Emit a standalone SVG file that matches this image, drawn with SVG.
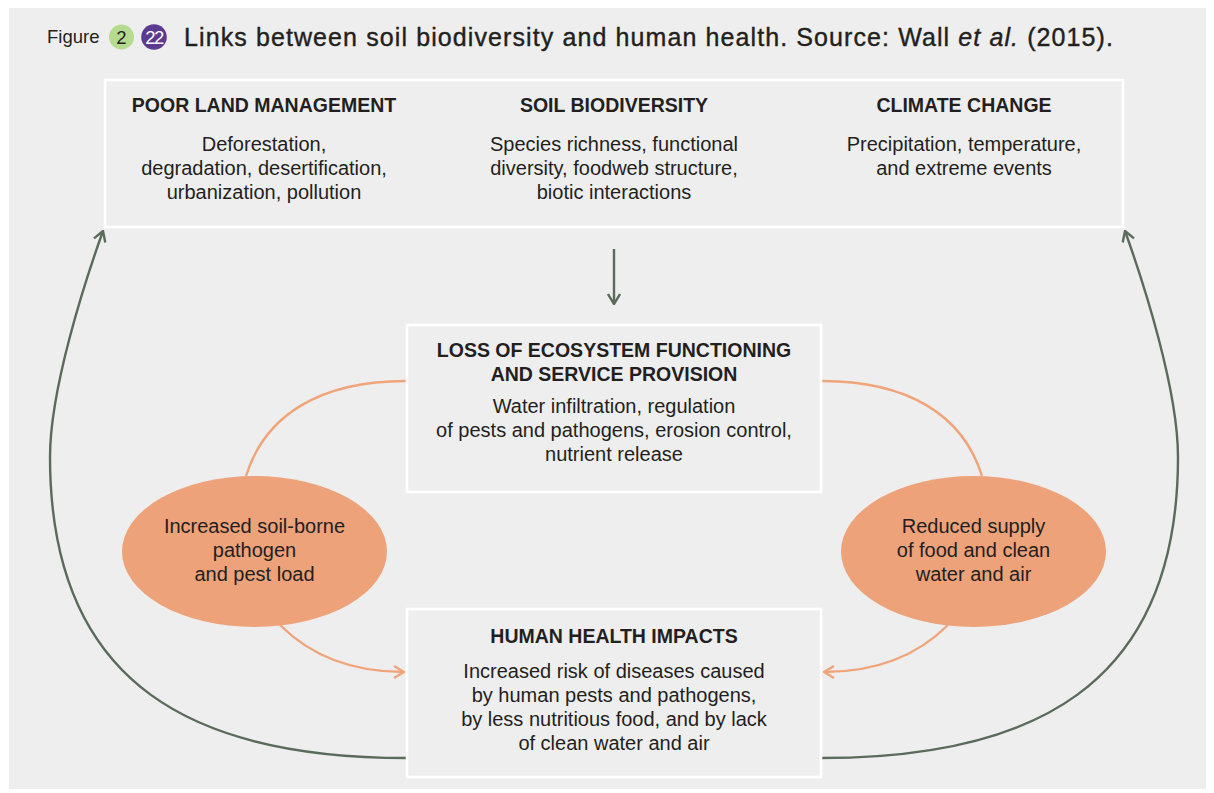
<svg xmlns="http://www.w3.org/2000/svg" width="1214" height="793" viewBox="0 0 1214 793">
<defs>
<style>
.t{font-family:"Liberation Sans",Arial,Helvetica,sans-serif;fill:#231f20;text-anchor:middle}
.h{font-size:19.5px;font-weight:bold}
.b{font-size:20px}
.box{fill:#eeeeee;stroke:#ffffff;stroke-width:2.6}
.g{fill:none;stroke:#5a6a5b;stroke-width:2.4}
.o{fill:none;stroke:#f0a47a;stroke-width:2.4}
.ell{fill:#eda27a}
</style>
<marker id="ag" viewBox="0 0 12 14" refX="11" refY="7" markerWidth="12" markerHeight="14" markerUnits="userSpaceOnUse" orient="auto">
<path d="M1,1 L11,7 L1,13" fill="none" stroke="#5a6a5b" stroke-width="2.4"/>
</marker>
<marker id="ao" viewBox="0 0 12 14" refX="11" refY="7" markerWidth="12" markerHeight="14" markerUnits="userSpaceOnUse" orient="auto">
<path d="M1,1 L11,7 L1,13" fill="none" stroke="#f0a47a" stroke-width="2.4"/>
</marker>
</defs>
<rect x="0" y="0" width="1214" height="793" fill="#ffffff"/>
<rect x="9" y="8" width="1197" height="781" fill="#eeeeee"/>

<g id="title">
<text x="47" y="43" font-family="Liberation Sans,Arial,sans-serif" font-size="18.5" fill="#231f20">Figure</text>
<circle cx="121.5" cy="37" r="12.5" fill="#b5db8e"/>
<text x="121.5" y="43.5" class="t" font-size="18.5">2</text>
<circle cx="154" cy="37" r="12.8" fill="#5c3b8f"/>
<text x="154" y="43.5" font-family="Liberation Sans,Arial,sans-serif" font-size="18.5" fill="#ffffff" text-anchor="middle" letter-spacing="-1.5">22</text>
<text x="184" y="46" font-family="Liberation Sans,Arial,sans-serif" font-size="25" fill="#231f20" stroke="#231f20" stroke-width="0.4" textLength="929" lengthAdjust="spacing">Links between soil biodiversity and human health. Source: Wall <tspan font-style="italic">et al.</tspan> (2015).</text>
</g>

<g id="connectors">
<path class="g" d="M407,758 C200,758 50,690 50,457 C50,390 84,284 103,231" marker-end="url(#ag)"/>
<path class="g" d="M821,758 C1028,758 1178,690 1178,457 C1178,390 1144,284 1125,231" marker-end="url(#ag)"/>
<path class="g" d="M406,154 L462,154" marker-end="url(#ag)"/>
<path class="g" d="M822,154 L766,154" marker-end="url(#ag)"/>
<path class="g" d="M614,249 L614,304" marker-end="url(#ag)"/>
<path class="o" d="M406,381 C320,381 265,415 246,476"/>
<path class="o" d="M822,381 C908,381 963,415 982,476"/>
<path class="o" d="M280,625 C310,655 350,672 404,672" marker-end="url(#ao)"/>
<path class="o" d="M948,625 C918,655 878,672 824,672" marker-end="url(#ao)"/>
</g>

<g id="top-box">
<rect class="box" x="105" y="80" width="1018" height="147"/>
</g>
<g id="poor-land-management">
<text class="t h" x="264" y="112">POOR LAND MANAGEMENT</text>
<text class="t b" x="264" y="151">Deforestation,</text>
<text class="t b" x="264" y="175">degradation, desertification,</text>
<text class="t b" x="264" y="199">urbanization, pollution</text>
</g>
<g id="soil-biodiversity">
<text class="t h" x="614" y="112">SOIL BIODIVERSITY</text>
<text class="t b" x="614" y="151">Species richness, functional</text>
<text class="t b" x="614" y="175">diversity, foodweb structure,</text>
<text class="t b" x="614" y="199">biotic interactions</text>
</g>
<g id="climate-change">
<text class="t h" x="964" y="112">CLIMATE CHANGE</text>
<text class="t b" x="964" y="151">Precipitation, temperature,</text>
<text class="t b" x="964" y="175">and extreme events</text>
</g>

<g id="loss-of-ecosystem-functioning">
<rect class="box" x="407" y="325" width="414" height="167"/>
<text class="t h" x="614" y="357">LOSS OF ECOSYSTEM FUNCTIONING</text>
<text class="t h" x="614" y="381">AND SERVICE PROVISION</text>
<text class="t b" x="614" y="413">Water infiltration, regulation</text>
<text class="t b" x="614" y="437">of pests and pathogens, erosion control,</text>
<text class="t b" x="614" y="461">nutrient release</text>
</g>

<g id="human-health-impacts">
<rect class="box" x="407" y="609" width="414" height="168"/>
<text class="t h" x="614" y="643">HUMAN HEALTH IMPACTS</text>
<text class="t b" x="614" y="678">Increased risk of diseases caused</text>
<text class="t b" x="614" y="702">by human pests and pathogens,</text>
<text class="t b" x="614" y="726">by less nutritious food, and by lack</text>
<text class="t b" x="614" y="750">of clean water and air</text>
</g>

<g id="pathogen-load">
<ellipse class="ell" cx="254.5" cy="551.5" rx="132.5" ry="75.5"/>
<text class="t b" x="254.5" y="533">Increased soil-borne</text>
<text class="t b" x="254.5" y="557">pathogen</text>
<text class="t b" x="254.5" y="581">and pest load</text>
</g>

<g id="reduced-supply">
<ellipse class="ell" cx="973.5" cy="551.5" rx="132.5" ry="75.5"/>
<text class="t b" x="973.5" y="533">Reduced supply</text>
<text class="t b" x="973.5" y="557">of food and clean</text>
<text class="t b" x="973.5" y="581">water and air</text>
</g>
</svg>
